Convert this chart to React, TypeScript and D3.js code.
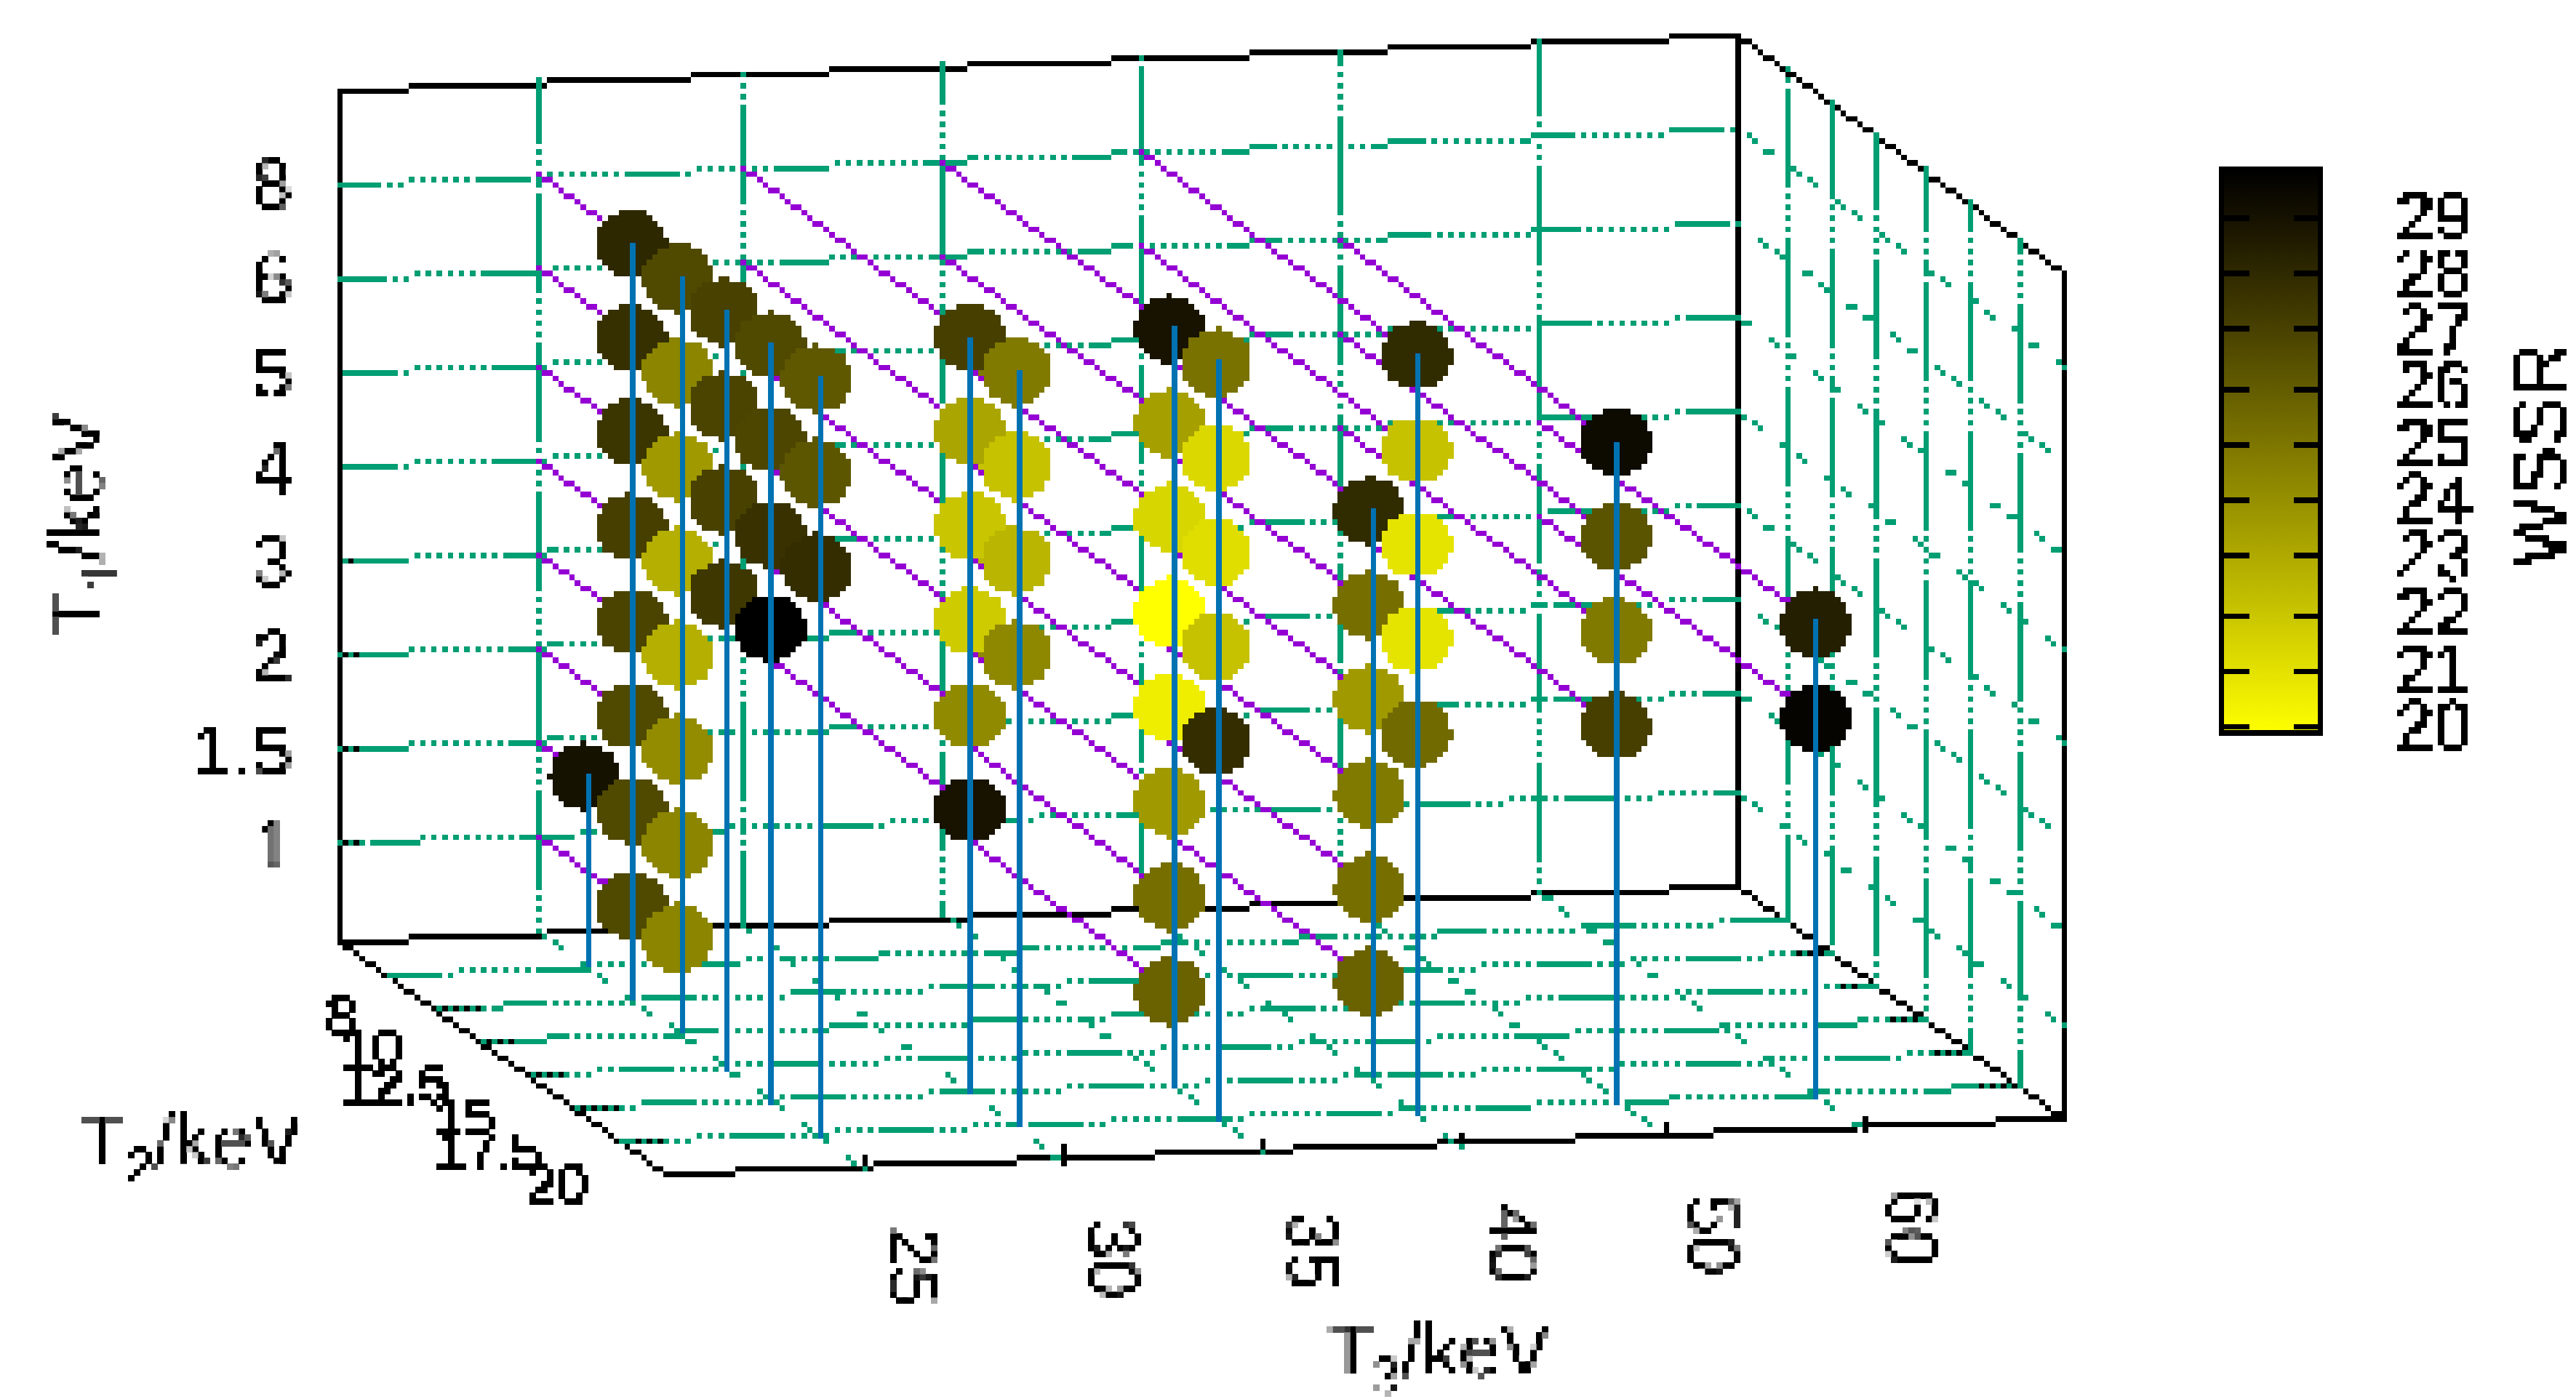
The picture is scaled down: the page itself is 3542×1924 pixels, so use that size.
import React from "react";
import * as d3 from "d3";

// ---- data ----
const T3_TICKS = [25, 30, 35, 40, 50, 60];
const T2_TICKS = [8, 10, 12.5, 15, 17.5, 20];
const T1_TICKS = [1, 1.5, 2, 3, 4, 5, 6, 8];
const WSSR_TICKS = [20, 21, 22, 23, 24, 25, 26, 27, 28, 29];

// rows: [T2, T1, WSSR]
const AT_T3_25 = [
  [8, 1.5, 29.05],
  [10, 8, 28.1], [10, 6, 27.8], [10, 5, 27.6], [10, 4, 27.2], [10, 3, 27.0], [10, 2, 26.8], [10, 1.5, 26.8], [10, 1, 26.8],
  [12.5, 8, 26.8], [12.5, 6, 24.5], [12.5, 5, 23.7], [12.5, 4, 22.9], [12.5, 3, 22.9], [12.5, 2, 24.2], [12.5, 1.5, 24.5], [12.5, 1, 24.5],
  [15, 8, 27.1], [15, 6, 27.0], [15, 5, 27.1], [15, 4, 27.5],
  [17.5, 8, 26.8], [17.5, 6, 26.9], [17.5, 5, 27.7], [17.5, 4, 29.9],
  [20, 8, 26.2], [20, 6, 26.3], [20, 5, 27.9],
];
const AT_T3_30 = [
  [17.5, 8, 27.2], [17.5, 6, 23.3], [17.5, 5, 22.1], [17.5, 4, 21.9], [17.5, 3, 24.3], [17.5, 2, 29.0],
  [20, 8, 24.9], [20, 6, 22.2], [20, 5, 22.7], [20, 4, 24.4],
];
const AT_T3_35 = [
  [17.5, 8, 29.0], [17.5, 6, 23.5], [17.5, 5, 21.5], [17.5, 4, 20.0], [17.5, 3, 20.6], [17.5, 2, 23.7], [17.5, 1.5, 25.3], [17.5, 1, 25.8],
  [20, 8, 25.2], [20, 6, 21.4], [20, 5, 21.2], [20, 4, 22.2], [20, 3, 27.9],
];
const AT_T3_40 = [
  [17.5, 5, 28.0], [17.5, 4, 25.3], [17.5, 3, 23.7], [17.5, 2, 24.9], [17.5, 1.5, 25.3], [17.5, 1, 25.8],
  [20, 8, 28.0], [20, 6, 22.2], [20, 5, 21.0], [20, 4, 21.0], [20, 3, 25.5],
];
const AT_T3_50 = [[20, 6, 29.4], [20, 5, 26.4], [20, 4, 24.9], [20, 3, 27.2]];
const AT_T3_60 = [[20, 4, 28.5], [20, 3, 29.7]];
const SERIES: [number, number[][]][] = [
  [25, AT_T3_25], [30, AT_T3_30], [35, AT_T3_35], [40, AT_T3_40], [50, AT_T3_50], [60, AT_T3_60],
];

// dash phases (where a solid run begins), one per grid line
const BACK_H_PHASE = [100, 86, 86, 73, 58, 58, 42, 40];
const BACK_V_PHASE = [63, 146, 10, 93, 161, 26];
const RIGHT_V_PHASE = [123, 138, 154, 183, 184, 10];
const FLOOR_H_PHASE = [118, 59, 88, 27, 61, 186];

// ---- styling: the picture sits on a coarse 7.6px cell grid ----
const W = 3542, H = 1924, P = 7.6;
const GREEN = "#009e73", PURPLE = "#9400d3", BLUE = "#0072b2";
const FONT = "'Liberation Sans', Arial, sans-serif";
const DASH_H = [...d3.range(10).map(() => 1), 0, 1, 0, 1, 0, 1, 0, 1, 0, 1, 0, 1, 0, 1, 0, 1, 0];
const DASH_V = [...d3.range(18).map(() => 1), 0, 1, 0, 1, 0, 1, 0, 1, 0];
const DASH_D = [1, 1, 0, 1, 1, 0, 0, 0];

// ---- axes ----
const O = [469, 1292];
const dxI = d3.scaleLinear().domain([0, 7]).range([0, 1923]);
const dyI = d3.scaleLinear().domain([0, 7]).range([0, -75]);
const dxJ = d3.scaleLinear().domain([0, 7]).range([0, 446]);
const dyJ = d3.scaleLinear().domain([0, 7]).range([0, 325.5]);
const dyK = d3.scaleLinear().domain([0, 9]).range([0, -1169]);
const iOf = d3.scalePoint<number>().domain(T3_TICKS).range([1, 6]);
const jOf = d3.scalePoint<number>().domain(T2_TICKS).range([1, 6]);
const kOf = d3.scalePoint<number>().domain(T1_TICKS).range([1, 8]);
const px = (i: number, j: number, k: number): [number, number] => [
  O[0] + dxI(i) + dxJ(j),
  O[1] + dyI(i) + dyJ(j) + dyK(k),
];

// ---- colour ----
const cbY = d3.scaleLinear().domain([20, 29]).range([1001, 300]);
const frac = d3.scaleLinear().domain([20, 29.9]).range([1, 0]).clamp(true);
const color = (w: number) => {
  const t = frac(w);
  return d3.rgb(255 * t, 255 * Math.pow(t, 1.08), 0).formatHex();
};

// ---- cell rasteriser ----
const cell = (v: number) => Math.floor(v / P);
const cellRect = (cx: number, cy: number, w = 1, h = 1) => {
  const x0 = Math.round(cx * P), x1 = Math.round((cx + w) * P);
  const y0 = Math.round(cy * P), y1 = Math.round((cy + h) * P);
  return `M${x0} ${y0}H${x1}V${y1}H${x0}Z`;
};
const mod = (a: number, m: number) => ((a % m) + m) % m;
type On = (step: number, cx: number, cy: number) => boolean;
const rasterLine = (a: [number, number], b: [number, number], on?: On) => {
  const x0 = cell(a[0]), y0 = cell(a[1]), x1 = cell(b[0]), y1 = cell(b[1]);
  const n = Math.max(Math.abs(x1 - x0), Math.abs(y1 - y0), 1);
  let d = "";
  for (let s = 0; s <= n; s++) {
    const cx = Math.round(x0 + ((x1 - x0) * s) / n);
    const cy = Math.round(y0 + ((y1 - y0) * s) / n);
    if (!on || on(s, cx, cy)) d += cellRect(cx, cy);
  }
  return d;
};
const rasterDisc = (x: number, y: number, r: number) => {
  const top = cell(y - r), bottom = cell(y + r - 0.01);
  let d = "";
  for (let cy = top; cy <= bottom; cy++) {
    const my = (cy + 0.5) * P - y;
    const half = Math.sqrt(Math.max(r * r - my * my, 0));
    const c0 = cell(x - half), c1 = cell(x + half - 0.01);
    if (c1 >= c0) d += cellRect(c0, cy, c1 - c0 + 1, 1);
  }
  return d;
};
const onH = (phase: number): On => (_s, cx) =>
  !!DASH_H[mod(cx - Math.round(phase / P), DASH_H.length)];
const onV = (phase: number): On => (_s, _x, cy) =>
  !!DASH_V[mod(cy - Math.round(phase / P), DASH_V.length)];
const onD = (phase: number): On => (s) => !!DASH_D[mod(s + phase, DASH_D.length)];

export default function App() {
  const els: React.ReactNode[] = [];
  const add = (key: string, d: string, fill: string) => els.push(<path key={key} d={d} fill={fill} />);
  const line = (key: string, a: [number, number], b: [number, number], fill: string, on?: On) =>
    add(key, rasterLine(a, b, on), fill);
  // frame
  line("f1", px(0, 0, 0), px(0, 0, 9), "#000");
  line("f2", px(0, 0, 9), px(7, 0, 9), "#000");
  line("f3", px(7, 0, 9), px(7, 0, 0), "#000");
  line("f4", px(0, 0, 0), px(7, 0, 0), "#000");
  line("f5", px(7, 0, 9), px(7, 7, 9), "#000");
  line("f6", px(7, 7, 9), px(7, 7, 0), "#000");
  line("f7", px(0, 0, 0), px(0, 7, 0), "#000");
  line("f8", px(7, 0, 0), px(7, 7, 0), "#000");
  line("f9", px(0, 7, 0), px(7, 7, 0), "#000");
  // ticks
  T1_TICKS.forEach((t) => {
    const a = px(0, 0, kOf(t)!);
    line("tk" + t, a, [a[0] + 32, a[1]], "#000");
  });
  T2_TICKS.forEach((t) => {
    const a = px(0, jOf(t)!, 0), b = px(7, jOf(t)!, 0);
    line("tj" + t, a, [a[0] + 58, a[1]], "#000");
    line("tj2" + t, b, [b[0] - 50, b[1]], "#000");
  });
  T3_TICKS.forEach((t) => {
    const a = px(iOf(t)!, 7, 0);
    line("ti" + t, a, [a[0], a[1] - 16], "#000");
  });
  // grid
  T3_TICKS.forEach((t, n) => {
    const i = iOf(t)!;
    line("bv" + t, px(i, 0, 9), px(i, 0, 0), GREEN, onV(BACK_V_PHASE[n]));
    line("fd" + t, px(i, 0, 0), px(i, 7, 0), GREEN, onD(n * 3));
  });
  T1_TICKS.forEach((t, n) => {
    const k = kOf(t)!;
    line("bh" + t, px(0, 0, k), px(7, 0, k), GREEN, onH(BACK_H_PHASE[n]));
    line("rd" + t, px(7, 0, k), px(7, 7, k), GREEN, onD(n * 2));
  });
  T2_TICKS.forEach((t, n) => {
    const j = jOf(t)!;
    line("rv" + t, px(7, j, 9), px(7, j, 0), GREEN, onV(RIGHT_V_PHASE[n]));
    line("fh" + t, px(0, j, 0), px(7, j, 0), GREEN, onH(FLOOR_H_PHASE[n]));
  });
  // purple rows
  SERIES.forEach(([t3, rows]) => {
    const i = iOf(t3)!;
    T1_TICKS.forEach((t1) => {
      const hit = rows.filter((r) => r[1] === t1);
      if (!hit.length) return;
      const jm = d3.max(hit, (r) => jOf(r[0])!)!;
      const k = kOf(t1)!;
      line(`p${t3}-${t1}`, px(i, 0, k), px(i, jm, k), PURPLE);
    });
  });
  // points
  SERIES.forEach(([t3, rows]) => {
    rows.forEach((r) => {
      const c = px(iOf(t3)!, jOf(r[0])!, kOf(r[1])!);
      add(`c${t3}-${r[0]}-${r[1]}`, rasterDisc(c[0] - 3, c[1], 45), color(r[2]));
    });
  });
  // impulses
  SERIES.forEach(([t3, rows]) => {
    d3.group(rows, (r) => r[0]).forEach((g, t2) => {
      const i = iOf(t3)!, j = jOf(t2)!;
      const k = d3.max(g, (r) => kOf(r[1])!)!;
      line(`im${t3}-${t2}`, px(i, j, k), px(i, j, 0), BLUE);
    });
  });
  // colour bar
  const stops = d3.range(0, 1.0001, 0.05);
  els.push(
    <rect key="cb" x={3054.5} y={233} width={136} height={775} fill="url(#cbgrad)" stroke="#000" strokeWidth={P} />
  );
  WSSR_TICKS.forEach((t) => {
    const y = cbY(t);
    line("cl" + t, [3058, y], [3088, y], "#000");
    line("cr" + t, [3157, y], [3187, y], "#000");
  });
  // text
  const texts: React.ReactNode[] = [];
  const txt = { fontFamily: FONT, fill: "#000", stroke: "#fff", strokeWidth: 0.4 };
  const small = { fontFamily: FONT, fill: "#000", stroke: "#000", strokeWidth: 1.5 };
  T1_TICKS.forEach((t) => {
    const a = px(0, 0, kOf(t)!);
    texts.push(<text key={"k" + t} {...txt} x={402} y={a[1] + 34} fontSize={98} textAnchor="end">{t}</text>);
  });
  T2_TICKS.forEach((t) => {
    const a = px(0, jOf(t)!, 0);
    texts.push(<text key={"j" + t} {...small} x={a[0] - 43} y={a[1] + 57 + 27} fontSize={75} textAnchor="end">{t}</text>);
  });
  T3_TICKS.forEach((t) => {
    const a = px(iOf(t)!, 7, 0);
    const x = a[0] + 33, y = a[1] + 135;
    texts.push(
      <text key={"i" + t} {...txt} x={0} y={0} fontSize={98} textAnchor="middle"
        transform={`translate(${x},${y}) rotate(90)`}>{t}</text>
    );
  });
  WSSR_TICKS.forEach((t) => {
    texts.push(<text key={"w" + t} {...small} strokeWidth={0} x={3294} y={cbY(t) + 29} fontSize={95}>{t}</text>);
  });
  const label = (name: string, sub: string) => [
    <tspan key="a">{name}</tspan>,
    <tspan key="b" fontSize={70} dy={24}>{sub}</tspan>,
    <tspan key="c" dy={-24}>/keV</tspan>,
  ];
  texts.push(<text key="lt2" {...txt} x={110} y={1604} fontSize={102}>{label("T", "2")}</text>);
  texts.push(<text key="lt3" {...txt} x={1826} y={1892} fontSize={102}>{label("T", "3")}</text>);
  texts.push(
    <text key="lt1" {...txt} x={0} y={0} fontSize={102} transform="translate(140,874) rotate(-90)">{label("T", "1")}</text>
  );
  texts.push(
    <text key="lw" {...small} strokeWidth={0} x={0} y={0} fontSize={103} textAnchor="middle" transform="translate(3527,626) rotate(-90)">WSSR</text>
  );

  return (
    <svg width={W} height={H} viewBox={`0 0 ${W} ${H}`} shapeRendering="crispEdges"
      style={{ position: "absolute", left: 0, top: 0, display: "block", background: "#fff" }}>
      <defs>
        <linearGradient id="cbgrad" x1="0" y1="1" x2="0" y2="0">
          {stops.map((s) => (
            <stop key={s} offset={s} stopColor={color(20 + s * 9.9)} />
          ))}
        </linearGradient>
        <filter id="px" filterUnits="userSpaceOnUse" x={0} y={0} width={W} height={H}
          colorInterpolationFilters="sRGB">
          <feFlood x={4} y={4} width={1} height={1} />
          <feComposite width={8} height={8} />
          <feTile result="a" />
          <feComposite in="SourceGraphic" in2="a" operator="in" />
          <feMorphology operator="dilate" radius={4} />
          <feComponentTransfer>
            <feFuncA type="discrete" tableValues="0 1" />
          </feComponentTransfer>
        </filter>
      </defs>
      {els}
      <g filter="url(#px)">{texts}</g>
    </svg>
  );
}
